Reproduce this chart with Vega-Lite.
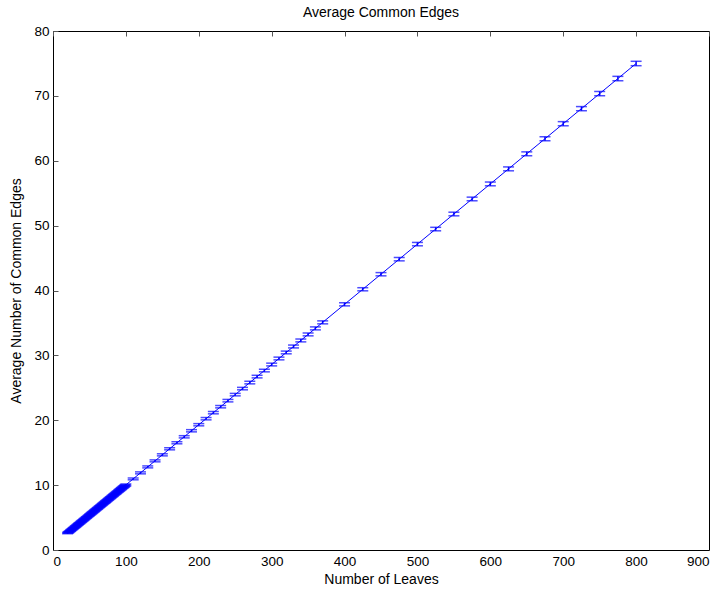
{
  "$schema": "https://vega.github.io/schema/vega-lite/v6.json",
  "autosize": {"type": "none"},
  "width": 656,
  "height": 519,
  "padding": {"left": 53, "top": 31, "right": 14, "bottom": 41},
  "background": "white",
  "config": {
    "view": {"stroke": "black", "strokeWidth": 1},
    "font": "Liberation Sans",
    "axis": {"grid": true, "gridDash": [5, 2000], "gridColor": "#555555", "gridWidth": 1, "gridOpacity": 1, "ticks": false, "domain": false, "labelPadding": 4, "labelFont": "Liberation Sans", "labelFontSize": 13.5, "labelColor": "black", "titleFont": "Liberation Sans", "titleFontSize": 14, "titleFontWeight": "normal", "titleColor": "black"}
  },
  "title": {"text": "Average Common Edges", "fontSize": 14, "fontWeight": "normal", "font": "Liberation Sans", "offset": 4, "color": "black"},
  "data": {"values": [
    {"n": 20, "y": 2.61, "err": 0.10}, {"n": 21, "y": 2.70, "err": 0.10}, {"n": 22, "y": 2.79, "err": 0.10}, {"n": 23, "y": 2.88, "err": 0.10}, {"n": 24, "y": 2.98, "err": 0.10},
    {"n": 25, "y": 3.07, "err": 0.10}, {"n": 26, "y": 3.16, "err": 0.10}, {"n": 27, "y": 3.26, "err": 0.10}, {"n": 28, "y": 3.35, "err": 0.10}, {"n": 29, "y": 3.44, "err": 0.10},
    {"n": 30, "y": 3.53, "err": 0.11}, {"n": 31, "y": 3.63, "err": 0.11}, {"n": 32, "y": 3.72, "err": 0.11}, {"n": 33, "y": 3.81, "err": 0.11}, {"n": 34, "y": 3.91, "err": 0.11},
    {"n": 35, "y": 4.00, "err": 0.11}, {"n": 36, "y": 4.09, "err": 0.11}, {"n": 37, "y": 4.18, "err": 0.11}, {"n": 38, "y": 4.28, "err": 0.11}, {"n": 39, "y": 4.37, "err": 0.11},
    {"n": 40, "y": 4.46, "err": 0.11}, {"n": 41, "y": 4.55, "err": 0.11}, {"n": 42, "y": 4.65, "err": 0.11}, {"n": 43, "y": 4.74, "err": 0.11}, {"n": 44, "y": 4.83, "err": 0.11},
    {"n": 45, "y": 4.93, "err": 0.11}, {"n": 46, "y": 5.02, "err": 0.11}, {"n": 47, "y": 5.11, "err": 0.11}, {"n": 48, "y": 5.20, "err": 0.11}, {"n": 49, "y": 5.30, "err": 0.11},
    {"n": 50, "y": 5.39, "err": 0.12}, {"n": 51, "y": 5.48, "err": 0.12}, {"n": 52, "y": 5.58, "err": 0.12}, {"n": 53, "y": 5.67, "err": 0.12}, {"n": 54, "y": 5.76, "err": 0.12},
    {"n": 55, "y": 5.85, "err": 0.12}, {"n": 56, "y": 5.95, "err": 0.12}, {"n": 57, "y": 6.04, "err": 0.12}, {"n": 58, "y": 6.13, "err": 0.12}, {"n": 59, "y": 6.23, "err": 0.12},
    {"n": 60, "y": 6.32, "err": 0.12}, {"n": 61, "y": 6.41, "err": 0.12}, {"n": 62, "y": 6.50, "err": 0.12}, {"n": 63, "y": 6.60, "err": 0.12}, {"n": 64, "y": 6.69, "err": 0.12},
    {"n": 65, "y": 6.78, "err": 0.12}, {"n": 66, "y": 6.87, "err": 0.12}, {"n": 67, "y": 6.97, "err": 0.12}, {"n": 68, "y": 7.06, "err": 0.12}, {"n": 69, "y": 7.15, "err": 0.12},
    {"n": 70, "y": 7.25, "err": 0.13}, {"n": 71, "y": 7.34, "err": 0.13}, {"n": 72, "y": 7.43, "err": 0.13}, {"n": 73, "y": 7.52, "err": 0.13}, {"n": 74, "y": 7.62, "err": 0.13},
    {"n": 75, "y": 7.71, "err": 0.13}, {"n": 76, "y": 7.80, "err": 0.13}, {"n": 77, "y": 7.90, "err": 0.13}, {"n": 78, "y": 7.99, "err": 0.13}, {"n": 79, "y": 8.08, "err": 0.13},
    {"n": 80, "y": 8.17, "err": 0.13}, {"n": 81, "y": 8.27, "err": 0.13}, {"n": 82, "y": 8.36, "err": 0.13}, {"n": 83, "y": 8.45, "err": 0.13}, {"n": 84, "y": 8.55, "err": 0.13},
    {"n": 85, "y": 8.64, "err": 0.13}, {"n": 86, "y": 8.73, "err": 0.13}, {"n": 87, "y": 8.82, "err": 0.13}, {"n": 88, "y": 8.92, "err": 0.13}, {"n": 89, "y": 9.01, "err": 0.13},
    {"n": 90, "y": 9.10, "err": 0.14}, {"n": 91, "y": 9.19, "err": 0.14}, {"n": 92, "y": 9.29, "err": 0.14}, {"n": 93, "y": 9.38, "err": 0.14}, {"n": 94, "y": 9.47, "err": 0.14},
    {"n": 95, "y": 9.57, "err": 0.14}, {"n": 96, "y": 9.66, "err": 0.14}, {"n": 97, "y": 9.75, "err": 0.14}, {"n": 98, "y": 9.84, "err": 0.14}, {"n": 99, "y": 9.94, "err": 0.14},
    {"n": 100, "y": 10.03, "err": 0.14},
    {"n": 110, "y": 10.96, "err": 0.14}, {"n": 120, "y": 11.89, "err": 0.15}, {"n": 130, "y": 12.81, "err": 0.15}, {"n": 140, "y": 13.74, "err": 0.15},
    {"n": 150, "y": 14.67, "err": 0.16}, {"n": 160, "y": 15.60, "err": 0.16}, {"n": 170, "y": 16.53, "err": 0.16}, {"n": 180, "y": 17.45, "err": 0.17},
    {"n": 190, "y": 18.38, "err": 0.17}, {"n": 200, "y": 19.31, "err": 0.17}, {"n": 210, "y": 20.24, "err": 0.18}, {"n": 220, "y": 21.17, "err": 0.18},
    {"n": 230, "y": 22.09, "err": 0.18}, {"n": 240, "y": 23.02, "err": 0.19}, {"n": 250, "y": 23.95, "err": 0.19}, {"n": 260, "y": 24.88, "err": 0.19},
    {"n": 270, "y": 25.81, "err": 0.20}, {"n": 280, "y": 26.73, "err": 0.20}, {"n": 290, "y": 27.66, "err": 0.20}, {"n": 300, "y": 28.59, "err": 0.21},
    {"n": 310, "y": 29.52, "err": 0.21}, {"n": 320, "y": 30.45, "err": 0.21}, {"n": 330, "y": 31.37, "err": 0.22}, {"n": 340, "y": 32.30, "err": 0.22},
    {"n": 350, "y": 33.23, "err": 0.22}, {"n": 360, "y": 34.16, "err": 0.23}, {"n": 370, "y": 35.09, "err": 0.23},
    {"n": 400, "y": 37.87, "err": 0.24}, {"n": 425, "y": 40.19, "err": 0.24}, {"n": 450, "y": 42.51, "err": 0.25}, {"n": 475, "y": 44.83, "err": 0.26},
    {"n": 500, "y": 47.15, "err": 0.26}, {"n": 525, "y": 49.47, "err": 0.27}, {"n": 550, "y": 51.79, "err": 0.28}, {"n": 575, "y": 54.11, "err": 0.28},
    {"n": 600, "y": 56.43, "err": 0.29}, {"n": 625, "y": 58.75, "err": 0.30}, {"n": 650, "y": 61.07, "err": 0.30}, {"n": 675, "y": 63.39, "err": 0.31},
    {"n": 700, "y": 65.71, "err": 0.32}, {"n": 725, "y": 68.03, "err": 0.32}, {"n": 750, "y": 70.35, "err": 0.33}, {"n": 775, "y": 72.67, "err": 0.34},
    {"n": 800, "y": 74.99, "err": 0.34}
  ]},
  "resolve": {"axis": {"x": "independent", "y": "independent"}},
  "layer": [
    {
      "mark": {"type": "line", "color": "#0000ff", "strokeWidth": 1},
      "encoding": {
        "x": {"field": "n", "type": "quantitative", "scale": {"domain": [0, 900], "nice": false, "zero": true}, "axis": {"orient": "bottom", "title": "Number of Leaves", "values": [0, 100, 200, 300, 400, 500, 600, 700, 800, 900], "titlePadding": 5}},
        "y": {"field": "y", "type": "quantitative", "scale": {"domain": [0, 80], "nice": false}, "axis": {"orient": "left", "title": "Average Number of Common Edges", "values": [0, 10, 20, 30, 40, 50, 60, 70, 80], "titlePadding": 10}}
      }
    },
    {
      "mark": {"type": "errorbar", "color": "#0000ff", "thickness": 1.5, "ticks": {"size": 11, "thickness": 1.5, "color": "#0000ff"}},
      "encoding": {
        "x": {"field": "n", "type": "quantitative", "scale": {"domain": [0, 900], "nice": false}, "axis": {"orient": "top", "title": null, "labels": false, "values": [0, 100, 200, 300, 400, 500, 600, 700, 800, 900]}},
        "y": {"field": "y", "type": "quantitative", "scale": {"domain": [0, 80], "nice": false}, "axis": {"orient": "right", "title": null, "labels": false, "values": [0, 10, 20, 30, 40, 50, 60, 70, 80]}},
        "yError": {"field": "err"}
      }
    }
  ]
}
